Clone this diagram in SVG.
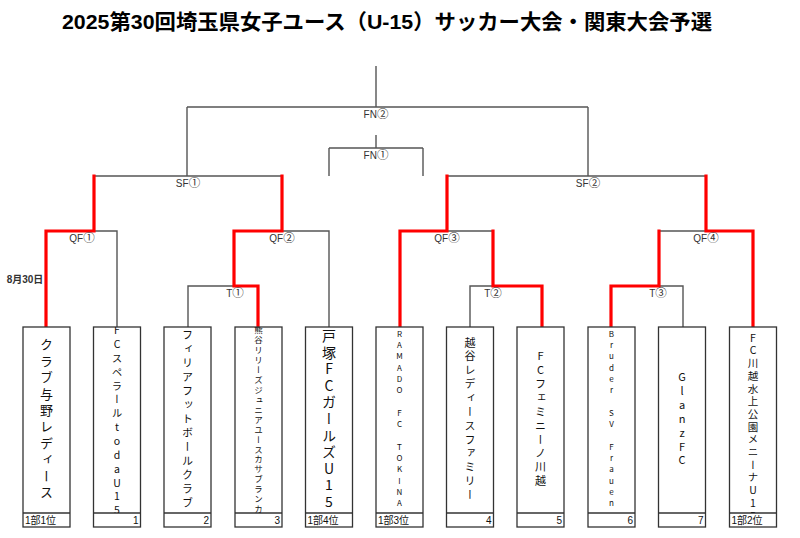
<svg xmlns="http://www.w3.org/2000/svg" width="800" height="538" viewBox="0 0 800 538">
<defs>
<style>
.ln{fill:none;stroke:#555;stroke-width:1.4}
.rd{fill:none;stroke:#ff0000;stroke-width:3.2;stroke-linejoin:miter;stroke-linecap:square}
.bx{fill:#fff;stroke:#333;stroke-width:1.3}
.lb{font-family:"Liberation Sans","Noto Sans CJK JP",sans-serif;font-size:10px;fill:#333;text-anchor:middle}
.cn{font-family:"Noto Sans CJK JP",sans-serif;font-size:11.5px}
.vt{font-family:"Noto Sans CJK JP",sans-serif;fill:#111;writing-mode:vertical-rl;text-orientation:upright}
.ft{font-family:"Liberation Sans","Noto Sans CJK JP",sans-serif;font-size:10px;fill:#111}
.ttl{font-family:"Liberation Sans","Noto Sans CJK JP",sans-serif;font-size:21px;font-weight:bold;fill:#000;text-anchor:middle}
</style>
<clipPath id="c2"><rect x="93.5" y="327" width="47" height="186"/></clipPath>
<clipPath id="c4"><rect x="235" y="327" width="47" height="186"/></clipPath>
<clipPath id="c11"><rect x="729.5" y="327" width="47" height="186"/></clipPath>
</defs>
<rect width="800" height="538" fill="#fff"/>
<text class="ttl" x="387" y="29" textLength="650" lengthAdjust="spacingAndGlyphs">2025第30回埼玉県女子ユース（U-15）サッカー大会・関東大会予選</text>

<g id="connectors">
<path class="ln" d="M376 66V107M187 107H588M187 107V176M588 107V176"/>
<path class="ln" d="M376 135V148M329 148H423M329 148V176M423 148V176"/>
<path class="ln" d="M94 176H282M447 176H706"/>
<path class="ln" d="M94 231H117V327M282 231H329V327M188 327V286H234"/>
<path class="ln" d="M447 231H493M470 327V286H493"/>
<path class="ln" d="M659 231H706M659 286H683V327"/>
<path class="rd" d="M94 176V231H46V327"/>
<path class="rd" d="M282 176V231H234V286H258V327"/>
<path class="rd" d="M447 176V231H400V327"/>
<path class="rd" d="M493 231V286H542V327"/>
<path class="rd" d="M706 176V231H753V327"/>
<path class="rd" d="M659 231V286H611V327"/>
</g>

<g id="labels">
<text class="lb" x="376" y="117.5">FN<tspan class="cn">②</tspan></text>
<text class="lb" x="376" y="159">FN<tspan class="cn">①</tspan></text>
<text class="lb" x="188" y="187">SF<tspan class="cn">①</tspan></text>
<text class="lb" x="588" y="187">SF<tspan class="cn">②</tspan></text>
<text class="lb" x="82" y="241.5">QF<tspan class="cn">①</tspan></text>
<text class="lb" x="282" y="241.5">QF<tspan class="cn">②</tspan></text>
<text class="lb" x="447" y="241.5">QF<tspan class="cn">③</tspan></text>
<text class="lb" x="706" y="241.5">QF<tspan class="cn">④</tspan></text>
<text class="lb" x="235" y="296.5">T<tspan class="cn">①</tspan></text>
<text class="lb" x="493" y="296.5">T<tspan class="cn">②</tspan></text>
<text class="lb" x="658" y="296.5">T<tspan class="cn">③</tspan></text>
<text class="lb" x="25" y="283" style="font-weight:bold">8月30日</text>
</g>

<g id="team1">
<rect class="bx" x="23" y="327" width="47" height="200"/><path class="bx" d="M23 513H70"/>
<text class="vt" x="46.5" y="420" text-anchor="middle" style="font-size:13px;letter-spacing:3.4px">クラブ与野レディース</text>
<text class="ft" x="25" y="524">1部1位</text>
</g>
<g id="team2">
<rect class="bx" x="93.5" y="327" width="47" height="200"/><path class="bx" d="M93.5 513H140.5"/>
<text class="vt" x="117" y="325" clip-path="url(#c2)" style="font-size:10.5px;letter-spacing:3.35px">FCスペラールtodaU15</text>
<text class="ft" x="138.5" y="524" text-anchor="end">1</text>
</g>
<g id="team3">
<rect class="bx" x="164" y="327" width="47" height="200"/><path class="bx" d="M164 513H211"/>
<text class="vt" x="187.5" y="420" text-anchor="middle" style="font-size:11px;letter-spacing:3px">フィリアフットボールクラブ</text>
<text class="ft" x="209" y="524" text-anchor="end">2</text>
</g>
<g id="team4">
<rect class="bx" x="235" y="327" width="47" height="200"/><path class="bx" d="M235 513H282"/>
<text class="vt" x="258.5" y="325.8" clip-path="url(#c4)" style="font-size:8.5px;letter-spacing:1.44px">熊谷リリーズジュニアユースカサブランカ</text>
<text class="ft" x="280" y="524" text-anchor="end">3</text>
</g>
<g id="team5">
<rect class="bx" x="305.5" y="327" width="47" height="200"/><path class="bx" d="M305.5 513H352.5"/>
<text class="vt" x="329" y="420" text-anchor="middle" style="font-size:14px;letter-spacing:2.6px">戸塚FCガールズU15</text>
<text class="ft" x="307.5" y="524">1部4位</text>
</g>
<g id="team6">
<rect class="bx" x="376" y="327" width="47" height="200"/><path class="bx" d="M376 513H423"/>
<text class="vt" x="399.5" y="420" text-anchor="middle" style="font-size:8px;letter-spacing:3.3px">RAMADO FC TOKINA</text>
<text class="ft" x="378" y="524">1部3位</text>
</g>
<g id="team7">
<rect class="bx" x="446.5" y="327" width="47" height="200"/><path class="bx" d="M446.5 513H493.5"/>
<text class="vt" x="470" y="420" text-anchor="middle" style="font-size:11px;letter-spacing:2.85px">越谷レディースファミリー</text>
<text class="ft" x="491.5" y="524" text-anchor="end">4</text>
</g>
<g id="team8">
<rect class="bx" x="517" y="327" width="47" height="200"/><path class="bx" d="M517 513H564"/>
<text class="vt" x="540.5" y="420" text-anchor="middle" style="font-size:11px;letter-spacing:2.85px">FCフェミニーノ川越</text>
<text class="ft" x="562" y="524" text-anchor="end">5</text>
</g>
<g id="team9">
<rect class="bx" x="588" y="327" width="47" height="200"/><path class="bx" d="M588 513H635"/>
<text class="vt" x="611.5" y="420" text-anchor="middle" style="font-size:8px;letter-spacing:3.3px">Bruder SV Frauen</text>
<text class="ft" x="633" y="524" text-anchor="end">6</text>
</g>
<g id="team10">
<rect class="bx" x="658.5" y="327" width="47" height="200"/><path class="bx" d="M658.5 513H705.5"/>
<text class="vt" x="682" y="420" text-anchor="middle" style="font-size:11px;letter-spacing:2.9px">GlanzFC</text>
<text class="ft" x="703.5" y="524" text-anchor="end">7</text>
</g>
<g id="team11">
<rect class="bx" x="729.5" y="327" width="47" height="200"/><path class="bx" d="M729.5 513H776.5"/>
<text class="vt" x="753" y="332.5" clip-path="url(#c11)" style="font-size:10.5px;letter-spacing:2.2px">FC川越水上公園メニーナU15</text>
<text class="ft" x="731.5" y="524">1部2位</text>
</g>
</svg>
